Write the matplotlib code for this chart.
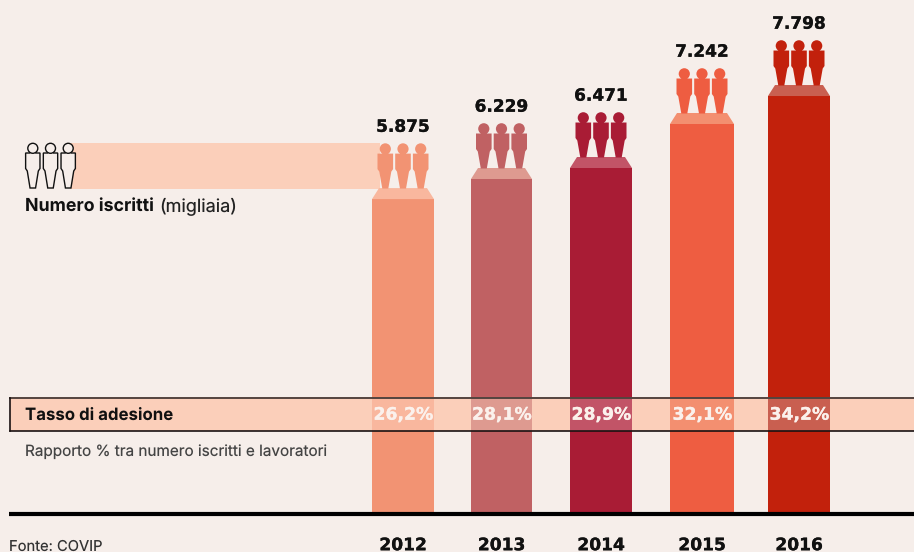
import matplotlib

matplotlib.use("Agg")
import matplotlib.patheffects as pe
import matplotlib.pyplot as plt
from matplotlib.patches import Ellipse, Polygon, Rectangle

YEARS = ["2012", "2013", "2014", "2015", "2016"]
# bar heights, in thousands of members
ISCRITTI = [5875, 6250, 6455, 7276, 7798]
ISCRITTI_LABELS = ["5.875", "6.229", "6.471", "7.242", "7.798"]
TASSO_LABELS = ["26,2%", "28,1%", "28,9%", "32,1%", "34,2%"]
COLORS = ["#F29373", "#C06163", "#A91C35", "#EE5D41", "#C2210C"]
TOP_COLORS = ["#F9B79E", "#DE9A90", "#C25467", "#F38F70", "#C95F50"]
BAR_CENTERS = [403, 501.5, 601, 702, 799]
BAR_WIDTHS = [62, 61, 62, 64, 62]

BG = "#F6EEEA"
BAND = "#FBCFBA"
W, H = 914, 552
BASE = 514  # pixel row of the baseline
PX_PER_UNIT = 0.0536

plt.rcParams["font.family"] = ["Inter", "DejaVu Sans"]
plt.rcParams["text.hinting"] = "no_hinting"
plt.rcParams["text.hinting_factor"] = 1

fig = plt.figure(figsize=(W / 100, H / 100), dpi=100, facecolor=BG)
ax = fig.add_axes([0, 0, 1, 1])
ax.set_facecolor(BG)
ax.set_xlim(0, W)
ax.set_ylim(-(H - BASE) / PX_PER_UNIT, BASE / PX_PER_UNIT)
ax.axis("off")


def py(row):
    # pixel row in the picture -> data y
    return (BASE - row) / PX_PER_UNIT


def person(xc, feet, color, filled=True):
    # feet is the pixel row of the bottom of the figure
    body = [
        (-7.8, -19.5), (-7.8, -35), (-3, -35), (-3, -37), (3, -37), (3, -35),
        (7.8, -35), (7.8, -19.5), (6, -17), (3, 0), (-3, 0), (-6, -17),
    ]
    scale = 1 if filled else 0.92
    pts = [(xc + dx * scale, py(feet + dy)) for dx, dy in body]
    fc = color if filled else BG
    ec = "none" if filled else color
    head = 11.2 if filled else 10
    ax.add_patch(Polygon(pts, closed=True, fc=fc, ec=ec, lw=1.0, zorder=4))
    ax.add_patch(Ellipse((xc, py(feet - 39.7)), head, head / PX_PER_UNIT, fc=fc, ec=ec, lw=1.0, zorder=5))


def heavy_text(x, row, s, size, color):
    ax.text(x, py(row), s, ha="center", va="center", fontsize=size, fontweight="bold",
            family=["DejaVu Sans"], color=color, zorder=9,
            path_effects=[pe.withStroke(linewidth=0.2, foreground=color)])


# band behind the first bar, joining the legend figures to it
ax.add_patch(Rectangle((70, py(189)), 310, py(143) - py(189), fc=BAND, ec="none", zorder=1))

ax.bar(BAR_CENTERS, ISCRITTI, width=BAR_WIDTHS, color=COLORS, zorder=2)

for xc, bw, v, lab, c, top in zip(BAR_CENTERS, BAR_WIDTHS, ISCRITTI, ISCRITTI_LABELS, COLORS, TOP_COLORS):
    row = BASE - v * PX_PER_UNIT
    half = bw / 2
    ax.add_patch(Polygon(
        [(xc - half, v), (xc + half, v), (xc + half - 7, py(row - 11)), (xc - half + 7, py(row - 11))],
        closed=True, fc=top, ec="none", zorder=3,
    ))
    for dx in (-17.7, 0, 17.7):
        person(xc + dx, row - 10.5, c)
    heavy_text(xc, row - 72, lab, 12.2, "#111111")

for dx in (-17.7, 0, 17.7):
    person(50.5 + dx, 188, "#111111", filled=False)

# tasso di adesione band, lighter where it crosses the bars
ax.add_patch(Rectangle((9.5, py(431)), W, py(397.5) - py(431), fc=BAND, ec="none", zorder=1))
for xc, bw, c, lab in zip(BAR_CENTERS, BAR_WIDTHS, TOP_COLORS, TASSO_LABELS):
    ax.add_patch(Rectangle((xc - bw / 2, py(431)), bw, py(397.5) - py(431), fc=c, ec="none", zorder=3))
    heavy_text(xc, 415, lab, 12.4, "#FBF1EC")
ax.plot([9.5, W], [py(397.5), py(397.5)], color="#54443F", lw=1.4, zorder=7)
ax.plot([9.5, W], [py(431), py(431)], color="#1A1212", lw=1.2, zorder=7)
ax.plot([9.5, 9.5], [py(397.5), py(431)], color="#1A1212", lw=1.2, zorder=7)

ax.text(25, py(206.5), "Numero iscritti", ha="left", va="center", fontsize=12.8, fontweight="bold", color="#111111")
ax.text(159, py(206.5), "(migliaia)", ha="left", va="center", fontsize=13, color="#222222")
ax.text(25, py(415.5), "Tasso di adesione", ha="left", va="center", fontsize=12.1, fontweight="bold", color="#111111")
ax.text(25, py(452), "Rapporto % tra numero iscritti e lavoratori", ha="left", va="center", fontsize=11, color="#444444")
ax.text(9, py(546.5), "Fonte: COVIP", ha="left", va="center", fontsize=10.6, color="#333333")

ax.plot([9, W], [0, 0], color="#000000", lw=3, solid_capstyle="butt", zorder=8)

for xc, y in zip(BAR_CENTERS, YEARS):
    heavy_text(xc, 545.5, y, 12.3, "#111111")

fig.savefig("out.png", dpi=100, facecolor=BG)
